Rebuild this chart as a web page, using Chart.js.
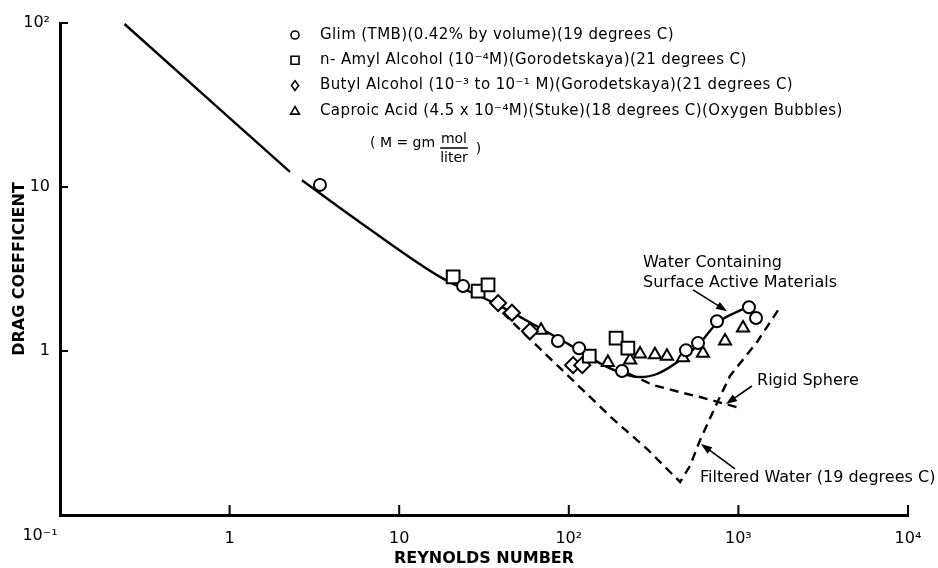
<!DOCTYPE html>
<html lang="en">
<head>
<meta charset="UTF-8">
<title>Drag coefficient vs Reynolds number</title>
<style>
  html, body { margin: 0; padding: 0; background: #fff; }
  #wrap { width: 938px; height: 568px; }
</style>
</head>
<body>
<div id="wrap"><canvas id="dragChart"></canvas></div>
<script src="https://cdn.jsdelivr.net/npm/chart.js@4"></script>
<script>
  // axis ticks (decades only)
  const reTicks = [0.1, 1, 10, 100, 1000, 10000];
  const reTickLabels = ['', '1', '10', '10²', '10³', '10⁴'];
  const cdTicks = [0.1, 1, 10, 100];
  const cdTickLabels = ['', '1', '10', '10²'];

  // water containing surface active materials (solid), null = break in the line
  const solidRe = [0.24, 2.27, 2.45, 2.67, 6.55, 17.4, 38.2, 67.6, 106, 168, 263, 331, 471, 594, 748, 1124];
  const solidCd = [98.6, 12.35, null, 11.0, 5.62, 2.83, 1.91, 1.38, 1.06, 0.80, 0.694, 0.724, 0.906, 1.12, 1.48, 1.85];

  // filtered water (dashed)
  const filteredRe = [35.3, 43.8, 88.7, 182, 289, 453, 518, 594, 748, 892, 1288, 1760];
  const filteredCd = [1.99, 1.59, 0.788, 0.385, 0.253, 0.159, 0.199, 0.286, 0.482, 0.704, 1.135, 1.85];

  // rigid sphere (dashed)
  const rigidRe = [223, 314, 471, 594, 1021];
  const rigidCd = [0.73, 0.62, 0.555, 0.524, 0.449];

  // measured points
  const glimRe = [3.41, 23.8, 86.3, 115, 206, 491, 578, 748, 1154, 1270];
  const glimCd = [10.3, 2.49, 1.15, 1.04, 0.755, 1.01, 1.12, 1.52, 1.85, 1.59];
  const amylRe = [20.8, 29.2, 33.4, 132, 190, 223];
  const amylCd = [2.83, 2.32, 2.53, 0.93, 1.2, 1.04];
  const butylRe = [38.3, 46.2, 59, 106, 120];
  const butylCd = [1.96, 1.71, 1.32, 0.82, 0.82];
  const caproicRe = [68.6, 170, 230, 263, 322, 379, 471, 618, 834, 1065];
  const caproicCd = [1.34, 0.85, 0.88, 0.96, 0.95, 0.93, 0.91, 0.97, 1.15, 1.38];

  const pts = (xs, ys) => xs.map((x, i) => ({ x: x, y: ys[i] }));

  Chart.defaults.font.family = 'DejaVu Sans';
  Chart.defaults.color = '#000';

  function marker(style, r) {
    return {
      showLine: false, legend: true, order: 1,
      pointStyle: style, pointRadius: r, pointHoverRadius: r,
      pointBorderWidth: 2, pointBorderColor: '#000', pointBackgroundColor: '#fff'
    };
  }

  function curve(dash) {
    return {
      showLine: true, order: 2, borderColor: '#000', borderWidth: 2.4,
      borderDash: dash, pointRadius: 0, spanGaps: false
    };
  }

  // text and arrows placed in data coordinates
  const notes = [
    { text: 'Water Containing', at: [274, 3.44] },
    { text: 'Surface Active Materials', at: [274, 2.6] },
    { text: 'Rigid Sphere', at: [1288, 0.656] },
    { text: 'Filtered Water (19 degrees C)', at: [594, 0.168] }
  ];
  const arrows = [
    { from: [540, 2.36], to: [857, 1.75] },
    { from: [1202, 0.612], to: [845, 0.475] },
    { from: [955, 0.191], to: [602, 0.271] }
  ];

  function drawMark(ctx, style, x, y, r) {
    ctx.beginPath();
    if (style === 'circle') {
      ctx.arc(x, y, r, 0, Math.PI * 2);
    } else if (style === 'rect') {
      ctx.rect(x - r, y - r, 2 * r, 2 * r);
    } else if (style === 'rectRot') {
      ctx.moveTo(x, y - r * 1.2); ctx.lineTo(x + r * 0.9, y); ctx.lineTo(x, y + r * 1.2); ctx.lineTo(x - r * 0.9, y); ctx.closePath();
    } else {
      ctx.moveTo(x, y - r * 1.1); ctx.lineTo(x + r * 1.1, y + r * 0.8); ctx.lineTo(x - r * 1.1, y + r * 0.8); ctx.closePath();
    }
    ctx.stroke();
  }

  const decor = {
    id: 'decor',
    afterDraw(chart) {
      const { ctx, chartArea: a, scales: { x, y } } = chart;
      ctx.save();
      ctx.strokeStyle = '#000';
      ctx.fillStyle = '#000';

      // inward tick marks
      ctx.lineWidth = 2;
      reTicks.slice(1).forEach(v => {
        const px = x.getPixelForValue(v);
        ctx.beginPath(); ctx.moveTo(px, a.bottom); ctx.lineTo(px, a.bottom - 10); ctx.stroke();
      });
      cdTicks.slice(1).forEach(v => {
        const py = y.getPixelForValue(v);
        ctx.beginPath(); ctx.moveTo(a.left, py); ctx.lineTo(a.left + 8, py); ctx.stroke();
      });

      // shared corner label
      ctx.font = '16px DejaVu Sans';
      ctx.textAlign = 'center';
      ctx.textBaseline = 'middle';
      ctx.fillText('10⁻¹', a.left - 20, a.bottom + 21);

      // legend
      ctx.font = '15px DejaVu Sans';
      ctx.letterSpacing = '0.4px';
      ctx.textAlign = 'left';
      let row = 0;
      chart.data.datasets.forEach(ds => {
        if (!ds.legend) return;
        const ry = a.top + 12 + row * 25.3;
        ctx.lineWidth = 1.6;
        drawMark(ctx, ds.pointStyle, a.left + 235, ry, 4);
        ctx.fillText(ds.label, a.left + 260, ry);
        row++;
      });

      // units note
      ctx.font = '14px DejaVu Sans';
      ctx.letterSpacing = '0px';
      const ux = a.left + 310, uy = a.top + 120;
      ctx.fillText('( M = gm', ux, uy);
      const fx = ux + ctx.measureText('( M = gm').width + 5;
      const fw = ctx.measureText('liter').width;
      ctx.textAlign = 'center';
      ctx.fillText('mol', fx + fw / 2, uy - 4);
      ctx.fillText('liter', fx + fw / 2, uy + 15);
      ctx.lineWidth = 1.5;
      ctx.beginPath(); ctx.moveTo(fx, uy + 5); ctx.lineTo(fx + fw, uy + 5); ctx.stroke();
      ctx.textAlign = 'left';
      ctx.fillText(')', fx + fw + 8, uy + 6);

      // annotations
      ctx.font = '16px DejaVu Sans';
      notes.forEach(n => {
        ctx.fillText(n.text, x.getPixelForValue(n.at[0]), y.getPixelForValue(n.at[1]));
      });
      ctx.lineWidth = 1.6;
      arrows.forEach(ar => {
        const x1 = x.getPixelForValue(ar.from[0]), y1 = y.getPixelForValue(ar.from[1]);
        const x2 = x.getPixelForValue(ar.to[0]), y2 = y.getPixelForValue(ar.to[1]);
        const ang = Math.atan2(y2 - y1, x2 - x1);
        ctx.beginPath(); ctx.moveTo(x1, y1); ctx.lineTo(x2 - 8 * Math.cos(ang), y2 - 8 * Math.sin(ang)); ctx.stroke();
        ctx.beginPath();
        ctx.moveTo(x2, y2);
        ctx.lineTo(x2 - 11 * Math.cos(ang) + 4 * Math.sin(ang), y2 - 11 * Math.sin(ang) - 4 * Math.cos(ang));
        ctx.lineTo(x2 - 11 * Math.cos(ang) - 4 * Math.sin(ang), y2 - 11 * Math.sin(ang) + 4 * Math.cos(ang));
        ctx.closePath(); ctx.fill();
      });
      ctx.restore();
    }
  };

  new Chart(document.getElementById('dragChart'), {
    type: 'scatter',
    data: {
      datasets: [
        Object.assign({ label: 'Glim (TMB)(0.42% by volume)(19 degrees C)', data: pts(glimRe, glimCd) }, marker('circle', 6)),
        Object.assign({ label: 'n- Amyl Alcohol (10⁻⁴M)(Gorodetskaya)(21 degrees C)', data: pts(amylRe, amylCd) }, marker('rect', 9)),
        Object.assign({ label: 'Butyl Alcohol (10⁻³ to 10⁻¹ M)(Gorodetskaya)(21 degrees C)', data: pts(butylRe, butylCd) }, marker('rectRot', 8)),
        Object.assign({ label: 'Caproic Acid (4.5 x 10⁻⁴M)(Stuke)(18 degrees C)(Oxygen Bubbles)', data: pts(caproicRe, caproicCd) }, marker('triangle', 7)),
        Object.assign({ label: 'Water Containing Surface Active Materials', data: pts(solidRe, solidCd), cubicInterpolationMode: 'monotone' }, curve([])),
        Object.assign({ label: 'Filtered Water (19 degrees C)', data: pts(filteredRe, filteredCd) }, curve([9, 6])),
        Object.assign({ label: 'Rigid Sphere', data: pts(rigidRe, rigidCd) }, curve([9, 6]))
      ]
    },
    options: {
      responsive: true,
      maintainAspectRatio: false,
      animation: false,
      layout: { padding: { left: 10, right: 30, top: 23, bottom: 0 } },
      plugins: { legend: { display: false }, tooltip: { enabled: false } },
      scales: {
        x: {
          type: 'logarithmic',
          min: 0.1, max: 10000,
          afterBuildTicks: s => { s.ticks = reTicks.map(v => ({ value: v })); },
          afterFit: s => { s.height = 53; },
          ticks: {
            padding: 14, maxRotation: 0, autoSkip: false,
            font: { size: 16 },
            callback: (v, i) => reTickLabels[reTicks.indexOf(v)]
          },
          grid: { display: false, drawTicks: false },
          border: { display: true, width: 3, color: '#000' },
          title: { display: true, text: 'REYNOLDS NUMBER', padding: 0, font: { size: 16, weight: 'bold' } }
        },
        y: {
          type: 'logarithmic',
          min: 0.1, max: 100,
          afterBuildTicks: s => { s.ticks = cdTicks.map(v => ({ value: v })); },
          afterFit: s => { s.width = 50; },
          ticks: {
            padding: 10, autoSkip: false,
            font: { size: 16 },
            callback: (v, i) => cdTickLabels[cdTicks.indexOf(v)]
          },
          grid: { display: false, drawTicks: false },
          border: { display: true, width: 3, color: '#000' },
          title: { display: true, text: 'DRAG COEFFICIENT', padding: 0, font: { size: 16, weight: 'bold' } }
        }
      }
    },
    plugins: [decor]
  });
</script>
</body>
</html>
